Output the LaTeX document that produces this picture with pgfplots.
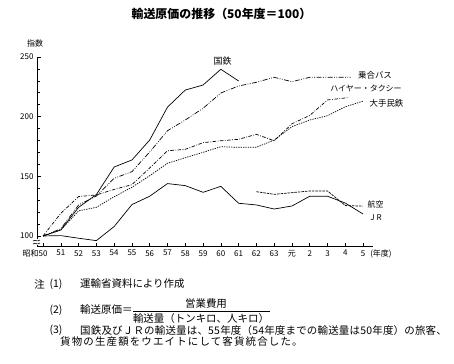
\documentclass[border=0pt]{standalone}
\usepackage{fontspec}
\setmainfont{Noto Sans CJK JP}
\usepackage{pgfplots}
\pgfplotsset{compat=1.18}
\begin{document}
\begin{tikzpicture}[x=1bp,y=1bp]
\useasboundingbox (0,0) rectangle (454,363);
\begin{axis}[at={(37bp,116.3bp)}, anchor=south west, scale only axis,
  width=336bp, height=189.7bp,
  xmin=-0.34, xmax=18.56, ymin=91, ymax=250,
  axis lines=left, axis line style={-, line width=0.7pt},
  tick align=inside,
  xtick={0,...,18},
  xticklabels={\llap{昭和}50,51,52,53,54,55,56,57,58,59,60,61,62,63,元,2,3,4,5\rlap{\hspace{5bp}(年度)}},
  ytick={100,150,200,250}, minor y tick num=4,
  major tick length=4bp, minor tick length=3bp,
  tick style={line width=0.6pt, black},
  every tick label/.append style={font=\fontsize{8}{9}\selectfont},
  /pgf/number format/assume math mode=true,
  clip=false]
% 国鉄
\addplot[black, line width=0.7pt] coordinates {(0,100)(1,105)(2,124)(3,134.7)(4,157.8)(5,163.7)(6,180.4)(7,208)(8,222.3)(9,226.5)(10,239.7)(11,229.9)};
% 乗合バス
\addplot[black, line width=0.7pt, dash pattern=on 5pt off 1.5pt on 0.8pt off 1.5pt on 0.8pt off 1.5pt] coordinates {(0,100)(1,106)(2,126)(3,133.5)(4,148.3)(5,153.9)(6,170.4)(7,188.2)(8,197.2)(9,207)(10,219.8)(11,225.7)(12,228.8)(13,233)(14,229.3)(15,233)(16,233)(17,233)(17.3,233)};
% ハイヤー・タクシー
\addplot[black, line width=0.7pt, dash pattern=on 3.5pt off 1.5pt on 0.8pt off 1.5pt] coordinates {(0,100)(1,119)(2,133)(3,134.4)(4,139)(5,143)(6,157)(7,171.4)(8,172.6)(9,178.2)(10,179.8)(11,181)(12,185.2)(13,179.8)(14,194)(15,201)(16,214)(17.2,216)};
% 大手民鉄
\addplot[black, line width=0.7pt, dash pattern=on 1.3pt off 1.1pt] coordinates {(0,100)(1,105)(2,121)(3,124)(4,132.9)(5,140.8)(6,150.5)(7,160.9)(8,165.6)(9,170.1)(10,174.8)(11,174.3)(12,174.3)(13,180.4)(14,191.6)(15,197.2)(16,200.8)(17,208.3)(18,213)};
% 航空
\addplot[black, line width=0.7pt, dash pattern=on 2.5pt off 1pt] coordinates {(12,137.1)(13,134.9)(14,136.3)(15,137.7)(16,137.7)(17,125.5)(18,125)};
% JR / bottom solid
\addplot[black, line width=0.7pt] coordinates {(0,100)(1,100.3)(2,98.1)(3,96.1)(4,107.9)(5,126.3)(6,133.3)(7,143.9)(8,142.2)(9,136.6)(10,141.6)(11,127.4)(12,126)(13,122.6)(14,125.1)(15,133.3)(16,133.3)(17,127.6)(18,118.4)};
\end{axis}
% axis break
\fill[white] (33,118.5) rectangle (41,124);
\draw[line width=0.6pt] (33,119) .. controls (35,121) and (37,117.5) .. (40,120);
\draw[line width=0.6pt] (33,122) .. controls (35,124) and (37,120.5) .. (40,123);
% texts
\node[font=\bfseries\fontsize{12}{14}\selectfont] at (221.5,349) {輸送原価の推移（50年度＝100）};
\node[font=\fontsize{8}{9}\selectfont] at (35,319.3) {指数};
\node[font=\fontsize{9}{10}\selectfont] at (222.5,301.7) {国鉄};
\node[font=\fontsize{8.5}{10}\selectfont] at (375,288) {乗合バス};
\node[font=\fontsize{8}{9}\selectfont] at (366,275) {ハイヤー・タクシー};
\node[font=\fontsize{8.5}{10}\selectfont] at (386.5,260) {大手民鉄};
\node[font=\fontsize{8}{9}\selectfont] at (375.5,159) {航空};
\node[font=\fontsize{8}{9}\selectfont] at (376,145) {J R};
% notes
\begin{scope}[every node/.style={font=\fontsize{10.5}{12}\selectfont, inner sep=0pt}]
\node at (39.5,79) {注};
\node at (56,79) {(1)};
\node[anchor=west] at (80,79) {運輸省資料により作成};
\node at (56,53) {(2)};
\node[anchor=west] at (80,53) {輸送原価＝};
\node at (206,59.3) {営業費用};
\draw[line width=0.5pt] (133,52) -- (270,52);
\node at (201,44) {輸送量（トンキロ、人キロ）};
\node at (56,32.3) {(3)};
\node[anchor=west] at (80,32.3) {\addfontfeature{LetterSpace=2}国鉄及びＪＲの輸送量は、55年度（54年度までの輸送量は50年度）の旅客、};
\node[anchor=west] at (60,21.3) {\addfontfeature{LetterSpace=11}貨物の生産額をウエイトにして客貨統合した。};
\end{scope}
\end{tikzpicture}
\end{document}
